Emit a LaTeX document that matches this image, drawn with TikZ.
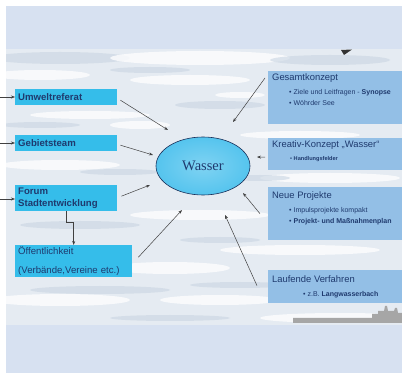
\documentclass[tikz,border=0pt]{standalone}
\usepackage{fontspec}
\setmainfont{Liberation Sans}
\newfontfamily\wasserfont{Liberation Serif}
\usetikzlibrary{arrows.meta,shapes.geometric}
\definecolor{band}{HTML}{D7E1F1}
\definecolor{water}{HTML}{E5EBF2}
\definecolor{streak}{HTML}{C9D5E2}
\definecolor{cyanbox}{HTML}{35BDEA}
\definecolor{bluebox}{HTML}{93BFE6}
\definecolor{navy}{HTML}{1F3A6E}
\definecolor{ellfill}{HTML}{55C4EE}
\tikzset{
  lbox/.style={fill=cyanbox, anchor=north west, inner xsep=3pt, inner ysep=0pt, align=left, text=navy, font=\bfseries\fontsize{9.6}{11}\selectfont},
  rbox/.style={fill=bluebox, anchor=north west, inner sep=0pt},
  rtitle/.style={anchor=west, inner sep=0pt, text=navy, font=\fontsize{9.4}{10}\selectfont},
  rbullet/.style={anchor=west, inner sep=0pt, text=navy, font=\fontsize{7}{8}\selectfont},
  arr/.style={draw=black!75, line width=0.5pt, -{Stealth[length=4pt,width=3pt]}},
  wstreak/.style={fill=white, opacity=0.75},
  dstreak/.style={fill=streak, opacity=0.6}
}
\begin{document}
\begin{tikzpicture}[x=1pt,y=-1pt]
\useasboundingbox (0,0) rectangle (402,374);
% bands
\fill[band] (6,6) rectangle (402,49);
\fill[band] (6,325) rectangle (402,373);
% water
\fill[water] (6,49) rectangle (402,325);
\begin{scope}
\clip (6,49) rectangle (402,325);
\fill[dstreak] (60,58) ellipse (70 and 6);
\fill[wstreak] (200,58) ellipse (90 and 7);
\fill[dstreak] (330,60) ellipse (60 and 5);
\fill[wstreak] (40,75) ellipse (50 and 5);
\fill[wstreak] (190,80) ellipse (60 and 5);
\fill[dstreak] (150,70) ellipse (40 and 3);
\fill[wstreak] (90,115) ellipse (60 and 4);
\fill[dstreak] (220,105) ellipse (45 and 4);
\fill[wstreak] (240,95) ellipse (25 and 3);
\fill[wstreak] (140,125) ellipse (30 and 4);
\fill[dstreak] (40,125) ellipse (40 and 3);
\fill[wstreak] (60,165) ellipse (60 and 5);
\fill[dstreak] (120,172) ellipse (40 and 3);
\fill[wstreak] (300,135) ellipse (60 and 4);
\fill[wstreak] (330,178) ellipse (70 and 5);
\fill[dstreak] (260,178) ellipse (30 and 3);
\fill[wstreak] (200,215) ellipse (70 and 5);
\fill[dstreak] (80,225) ellipse (60 and 4);
\fill[wstreak] (300,250) ellipse (80 and 5);
\fill[dstreak] (220,240) ellipse (40 and 3);
\fill[wstreak] (170,268) ellipse (60 and 6);
\fill[dstreak] (100,290) ellipse (70 and 4);
\fill[wstreak] (60,300) ellipse (70 and 6);
\fill[wstreak] (220,300) ellipse (60 and 5);
\fill[dstreak] (240,285) ellipse (50 and 3);
\fill[wstreak] (340,318) ellipse (80 and 5);
\fill[dstreak] (170,318) ellipse (60 and 3);
\end{scope}
% dark mark top right
\fill[black!80] (341,50) -- (352,49.5) -- (344,55) -- cycle;
% skyline
\fill[black!35] (293,318) -- (372,318) -- (372,314) -- (378,314) -- (378,311) -- (384,311) -- (385,306) -- (387,306) -- (388,311) -- (394,311) -- (395,308) -- (397,308) -- (398,313) -- (402,313) -- (402,323) -- (293,323) -- cycle;
% left boxes
\node[lbox, text width=96pt, minimum height=16pt] (umwelt) at (15,89) {Umweltreferat};
\node[lbox, text width=96pt, minimum height=16pt] (gebiet) at (15,135) {Gebietsteam};
\node[lbox, text width=96pt, minimum height=26pt, font=\bfseries\fontsize{9.6}{12.5}\selectfont] (forum) at (15,185) {Forum\\Stadtentwicklung};
\node[lbox, text width=111pt, minimum height=32pt, font=\fontsize{9.6}{11}\selectfont] (oeff) at (15,245) {Öffentlichkeit\\[8pt](Verbände,Vereine etc.)};
% left incoming arrows
\coordinate (lu) at (0,97);
\coordinate (lg) at (0,143);
\coordinate (lf) at (0,199);
\draw[arr] (lu) -- (lu -| umwelt.west);
\draw[arr] (lg) -- (lg -| gebiet.west);
\draw[arr] (lf) -- (lf -| forum.west);
% ellipse
\node[ellipse, draw=navy!80!black, line width=0.6pt, inner color=ellfill!75!white, outer color=ellfill, minimum width=94pt, minimum height=58pt, text=navy, font=\wasserfont\fontsize{14.5}{15}\selectfont] (wasser) at (203,166) {Wasser};
% right boxes
\node[rbox, minimum width=134pt, minimum height=53pt] (gesamt) at (268,71) {};
\node[rbox, minimum width=134pt, minimum height=32pt] (kreativ) at (268,138) {};
\node[rbox, minimum width=134pt, minimum height=53pt] (neue) at (268,187) {};
\node[rbox, minimum width=134pt, minimum height=33pt] (lauf) at (268,270) {};
\node[rtitle] (t1) at (272,78) {Gesamtkonzept};
\node[rbullet] (b11) at (289,93) {• Ziele und Leitfragen - \textbf{Synopse}};
\node[rbullet] (b12) at (289,103) {• Wöhrder See};
\node[rtitle] (t2) at (272,145) {Kreativ-Konzept „Wasser“};
\node[rbullet, font=\fontsize{5.6}{6}\selectfont] (b21) at (290,159) {• \textbf{Handlungsfelder}};
\node[rtitle] (t3) at (272,196) {Neue Projekte};
\node[rbullet] (b31) at (289,211) {• Impulsprojekte kompakt};
\node[rbullet] (b32) at (289,222) {• \textbf{Projekt- und Maßnahmenplan}};
\node[rtitle] (t4) at (272,279) {Laufende Verfahren};
\node[rbullet] (b41) at (303,295) {• z.B. \textbf{Langwasserbach}};
% arrow tips near ellipse
\coordinate (tip1) at (168,130);
\coordinate (tip2) at (153,155);
\coordinate (tip3) at (150,185);
\coordinate (tip4) at (182,210);
\coordinate (tip5) at (233,122);
\coordinate (tip6) at (257,157);
\coordinate (tip7) at (243,193);
\coordinate (tip8) at (225,215);
\draw[arr] ([shift={(3,3)}]umwelt.east) -- (tip1);
\draw[arr] ([shift={(3,2)}]gebiet.east) -- (tip2);
\draw[arr] ([shift={(4,-2)}]forum.east) -- (tip3);
\draw[arr] ([shift={(6,-4)}]oeff.east) -- (tip4);
\draw[arr] ([shift={(-3,7)}]gesamt.north west) -- (tip5);
\draw[arr] ([shift={(-3,3)}]kreativ.west) -- (tip6);
\draw[arr] ([shift={(-8,0)}]neue.west) -- (tip7);
\draw[arr] ([shift={(-11,-1)}]lauf.west) -- (tip8);
% forum to oeffentlichkeit
\draw[arr] (forum.south) -- ++(0,11) -| (oeff.north);
\end{tikzpicture}
\end{document}
